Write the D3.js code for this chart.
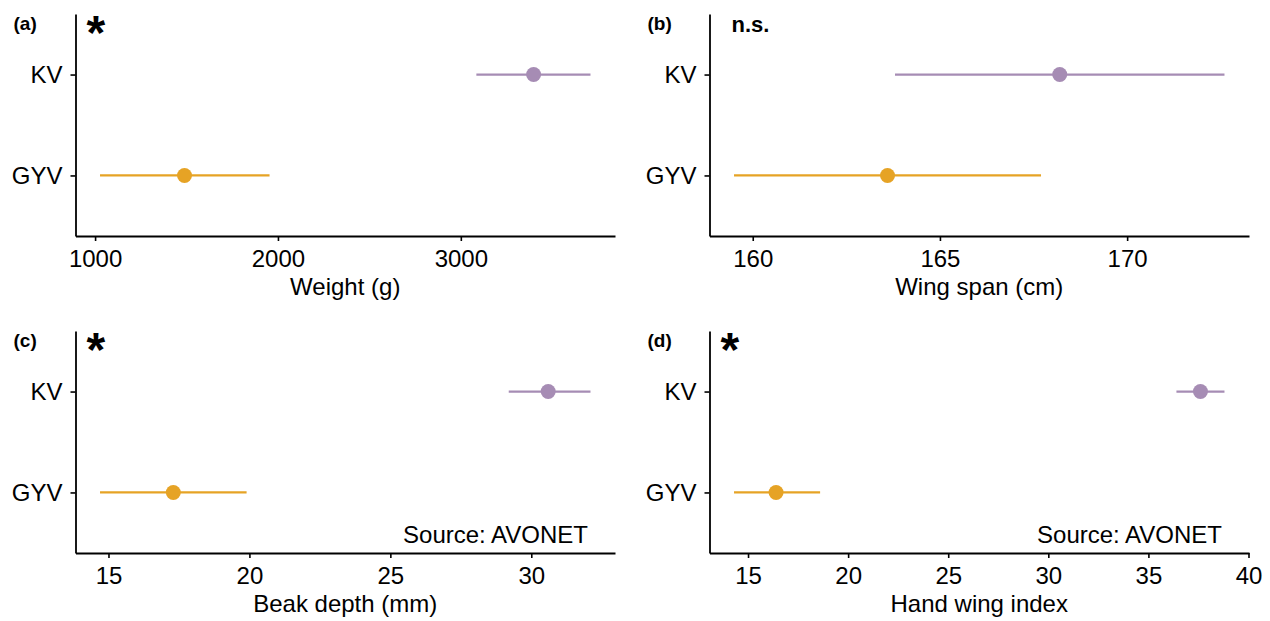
<!DOCTYPE html>
<html>
<head>
<meta charset="utf-8">
<script src="https://cdn.jsdelivr.net/npm/d3@7"></script>
<style>
  body { margin: 0; background: #fff; }
  text { font-family: "Liberation Sans", Arial, sans-serif; }
</style>
</head>
<body>
<div id="chart"></div>
<script>
const groups = ["KV", "GYV"];
const groupColors = ["#a68cb4", "#e6a325"];

const weightMean = [3398, 1489];
const weightLow = [3085, 1027];
const weightHigh = [3709, 1954];
const weightTicks = [1000, 2000, 3000];

const wingMean = [168.2, 163.6];
const wingLow = [163.8, 159.5];
const wingHigh = [172.6, 167.7];
const wingTicks = [160, 165, 170];

const beakMean = [30.6, 17.3];
const beakLow = [29.2, 14.7];
const beakHigh = [32.1, 19.9];
const beakTicks = [15, 20, 25, 30];

const hwiMean = [37.6, 16.4];
const hwiLow = [36.4, 14.3];
const hwiHigh = [38.8, 18.6];
const hwiTicks = [15, 20, 25, 30, 35, 40];

const width = 1270, height = 621;

const svg = d3.select("#chart")
    .append("svg")
    .attr("width", width)
    .attr("height", height);

const panels = [
    { tag: "(a)", mark: "*", title: "Weight (g)", mean: weightMean, low: weightLow, high: weightHigh, ticks: weightTicks,
      x0: 75.5, x1: 615, y0: 14, y1: 236, source: false },
    { tag: "(b)", mark: "n.s.", title: "Wing span (cm)", mean: wingMean, low: wingLow, high: wingHigh, ticks: wingTicks,
      x0: 709.5, x1: 1249, y0: 14, y1: 236, source: false },
    { tag: "(c)", mark: "*", title: "Beak depth (mm)", mean: beakMean, low: beakLow, high: beakHigh, ticks: beakTicks,
      x0: 75.5, x1: 615, y0: 331, y1: 553, source: true },
    { tag: "(d)", mark: "*", title: "Hand wing index", mean: hwiMean, low: hwiLow, high: hwiHigh, ticks: hwiTicks,
      x0: 709.5, x1: 1249, y0: 331, y1: 553, source: true }
];

panels.forEach(p => {
    const data = groups.map((g, i) => ({ g: g, m: p.mean[i], lo: p.low[i], hi: p.high[i], c: groupColors[i] }));

    // ggplot style 5% expansion
    const lo = d3.min(data, d => d.lo), hi = d3.max(data, d => d.hi);
    const pad = (hi - lo) * 0.05;
    const x = d3.scaleLinear().domain([lo - pad, hi + pad]).range([p.x0, p.x1]);
    const y = d3.scalePoint().domain(groups).range([p.y0, p.y1]).padding(0.6);

    const g = svg.append("g");

    // error bars
    g.selectAll("line.err")
        .data(data)
        .enter()
        .append("line")
        .attr("x1", d => x(d.lo))
        .attr("x2", d => x(d.hi))
        .attr("y1", d => y(d.g))
        .attr("y2", d => y(d.g))
        .attr("stroke", d => d.c)
        .attr("stroke-width", 2.2);

    // points
    g.selectAll("circle")
        .data(data)
        .enter()
        .append("circle")
        .attr("cx", d => x(d.m))
        .attr("cy", d => y(d.g))
        .attr("r", 7.5)
        .attr("fill", d => d.c);

    // x axis
    const xa = g.append("g")
        .attr("transform", `translate(0,${p.y1})`)
        .call(d3.axisBottom(x).tickValues(p.ticks).tickFormat(d3.format("d"))
            .tickSize(5).tickSizeOuter(0).tickPadding(9));
    xa.selectAll("text").style("font-size", "24px").attr("fill", "#000");

    // y axis
    const ya = g.append("g")
        .attr("transform", `translate(${p.x0},0)`)
        .call(d3.axisLeft(y).tickSize(5).tickSizeOuter(0).tickPadding(8));
    ya.selectAll("text").style("font-size", "24px").attr("fill", "#000");

    g.selectAll(".domain").attr("stroke", "#000").attr("stroke-width", 1.8);
    g.selectAll(".tick line").attr("stroke", "#000").attr("stroke-width", 1.6);

    // axis title
    g.append("text")
        .attr("x", (p.x0 + p.x1) / 2)
        .attr("y", p.y1 + 59)
        .attr("text-anchor", "middle")
        .style("font-size", "24px")
        .text(p.title);

    // panel tag
    g.append("text")
        .attr("x", p.x0 - 62)
        .attr("y", p.y0 + 16)
        .style("font-size", "19px")
        .style("font-weight", "bold")
        .text(p.tag);

    // significance mark
    if (p.mark === "*") {
        g.append("text")
            .attr("x", p.x0 + 11)
            .attr("y", p.y0 + 35)
            .style("font-size", "48px")
            .style("font-weight", "bold")
            .text(p.mark);
    } else {
        g.append("text")
            .attr("x", p.x0 + 22)
            .attr("y", p.y0 + 18)
            .style("font-size", "22px")
            .style("font-weight", "bold")
            .text(p.mark);
    }

    if (p.source) {
        g.append("text")
            .attr("x", p.x1 - 27)
            .attr("y", p.y1 - 10)
            .attr("text-anchor", "end")
            .style("font-size", "24px")
            .text("Source: AVONET");
    }
});
</script>
</body>
</html>
